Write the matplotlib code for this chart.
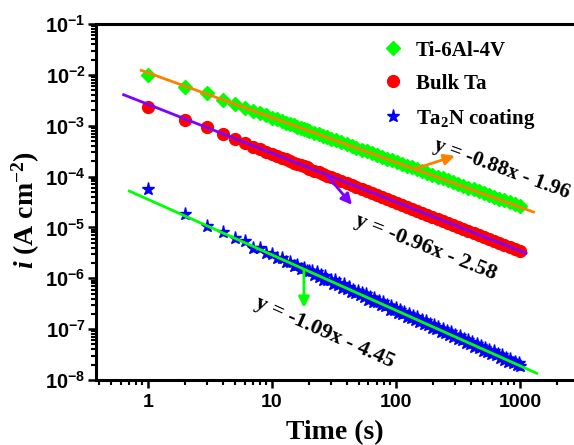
import matplotlib
matplotlib.use("Agg")
import matplotlib.pyplot as plt
from matplotlib.ticker import FixedLocator, FuncFormatter, NullFormatter
import numpy as np

plt.rcParams['mathtext.fontset'] = 'custom'
plt.rcParams['mathtext.rm'] = 'Liberation Serif:bold'
plt.rcParams['mathtext.it'] = 'Liberation Serif:italic:bold'
plt.rcParams['mathtext.bf'] = 'Liberation Serif:bold'
plt.rcParams['mathtext.sf'] = 'Liberation Sans:bold'

# Potentiostatic decay: current density vs time
time_s = [1, 2, 3, 4, 5, 6, 7, 8, 9, 10, 11, 12, 13, 14, 15, 16, 17, 18, 19, 20,
          22, 24, 26, 28, 30, 33, 36, 40, 44, 48, 53, 58, 64, 70, 77, 85, 93, 102,
          112, 123, 135, 148, 163, 179, 197, 217, 239, 263, 289, 318, 350, 385,
          424, 466, 513, 564, 620, 682, 750, 825, 908, 1000]

i_ti64 = [1.00e-2, 5.75e-3, 4.3e-3, 3.24e-3, 2.66e-3, 2.27e-3, 1.98e-3, 1.76e-3,
          1.59e-3, 1.45e-3, 1.33e-3, 1.23e-3, 1.15e-3, 1.08e-3, 1.01e-3, 9.6e-4,
          9.1e-4, 8.7e-4, 8.3e-4, 7.9e-4, 7.3e-4, 6.8e-4, 6.3e-4, 5.9e-4, 5.6e-4,
          5.15e-4, 4.8e-4, 4.35e-4, 4.0e-4, 3.72e-4, 3.4e-4, 3.15e-4, 2.9e-4,
          2.68e-4, 2.46e-4, 2.26e-4, 2.09e-4, 1.93e-4, 1.78e-4, 1.64e-4, 1.52e-4,
          1.4e-4, 1.28e-4, 1.18e-4, 1.09e-4, 1.0e-4, 9.2e-5, 8.45e-5, 7.8e-5,
          7.2e-5, 6.6e-5, 6.08e-5, 5.6e-5, 5.15e-5, 4.73e-5, 4.36e-5, 4.01e-5,
          3.69e-5, 3.4e-5, 3.13e-5, 2.88e-5, 2.64e-5]

i_bulk_ta = [2.35e-3, 1.30e-3, 9.3e-4, 6.8e-4, 5.4e-4, 4.55e-4, 3.9e-4, 3.45e-4,
             3.08e-4, 2.78e-4, 2.55e-4, 2.34e-4, 2.17e-4, 2.02e-4, 1.89e-4,
             1.78e-4, 1.68e-4, 1.59e-4, 1.51e-4, 1.44e-4, 1.31e-4, 1.21e-4,
             1.12e-4, 1.04e-4, 9.7e-5, 8.9e-5, 8.2e-5, 7.4e-5, 6.75e-5, 6.2e-5,
             5.65e-5, 5.2e-5, 4.7e-5, 4.3e-5, 3.95e-5, 3.6e-5, 3.3e-5, 3.0e-5,
             2.75e-5, 2.52e-5, 2.3e-5, 2.1e-5, 1.92e-5, 1.75e-5, 1.6e-5, 1.46e-5,
             1.33e-5, 1.21e-5, 1.11e-5, 1.01e-5, 9.2e-6, 8.4e-6, 7.7e-6, 7.0e-6,
             6.4e-6, 5.85e-6, 5.35e-6, 4.85e-6, 4.45e-6, 4.05e-6, 3.7e-6, 3.4e-6]

# the coating record is noisier, so it is sampled more finely
time_ta2n = [1, 2, 3, 4, 5, 6, 7, 8, 9, 10, 11, 12, 13, 14, 15, 16, 17, 18, 19, 20,
             21, 22, 23, 24, 25, 26, 27, 28, 30, 31, 32, 34, 35, 37, 38, 40, 42,
             43, 45, 47, 49, 51, 53, 55, 57, 60, 62, 65, 67, 70, 73, 76, 79, 82,
             85, 89, 92, 96, 100, 104, 108, 112, 117, 122, 127, 132, 137, 143, 148,
             154, 161, 167, 174, 181, 188, 196, 204, 212, 220, 229, 238, 248, 258,
             268, 279, 290, 302, 314, 327, 340, 353, 368, 382, 398, 414, 430, 448,
             466, 484, 504, 524, 545, 567, 589, 613, 637, 663, 690, 717, 746, 776,
             807, 839, 873, 908, 944, 982, 1000]

i_ta2n = [5.6e-5, 1.8e-5, 1.05e-5, 8.2e-6, 6.1e-6, 5.4e-6, 4.0e-6, 3.95e-6,
          3.15e-6, 2.95e-6, 2.55e-6, 2.45e-6, 2.1e-6, 2.05e-6, 1.75e-6, 1.8e-6,
          1.52e-6, 1.6e-6, 1.36e-6, 1.42e-6,
          1.41e-6, 1.14e-6, 1.31e-6, 1.06e-6, 1.14e-6, 9.3e-7, 1.10e-6, 9.4e-7,
          9.3e-7, 7.7e-7, 9.1e-7, 7.3e-7, 8.1e-7, 6.5e-7, 7.55e-7, 6.2e-7, 6.6e-7,
          5.4e-7, 6.0e-7, 5.1e-7, 5.7e-7, 4.6e-7, 5.1e-7, 4.3e-7, 4.85e-7, 3.8e-7,
          4.2e-7, 3.4e-7, 4.1e-7, 3.4e-7, 3.6e-7, 2.95e-7, 3.4e-7, 2.8e-7, 3.0e-7,
          2.4e-7, 2.9e-7, 2.4e-7, 2.6e-7, 2.1e-7, 2.4e-7, 1.98e-7, 2.17e-7,
          1.76e-7, 2.03e-7, 1.69e-7, 1.82e-7, 1.48e-7, 1.71e-7, 1.40e-7, 1.53e-7,
          1.25e-7, 1.44e-7, 1.20e-7, 1.29e-7, 1.05e-7, 1.21e-7, 9.9e-8, 1.09e-7,
          8.9e-8, 1.02e-7, 8.5e-8, 9.1e-8, 7.5e-8, 8.6e-8, 7.0e-8, 7.7e-8, 6.3e-8,
          7.2e-8, 6.0e-8, 6.5e-8, 5.3e-8, 6.1e-8, 5.0e-8, 5.5e-8, 4.5e-8, 5.1e-8,
          4.3e-8, 4.6e-8, 3.75e-8, 4.3e-8, 3.5e-8, 3.9e-8, 3.2e-8, 3.65e-8,
          3.05e-8, 3.3e-8, 2.7e-8, 3.05e-8, 2.5e-8, 2.75e-8, 2.25e-8, 2.6e-8,
          2.15e-8, 2.3e-8, 1.94e-8, 2.2e-8, 1.9e-8]

# Linear fits in log-log form: log10(i) = slope * log10(t) + intercept
fit_slopes = [-0.88, -0.96, -1.09]
fit_intercepts = [-1.96, -2.58, -4.45]
fit_t_start = [0.86, 0.62, 0.69]
fit_t_end = [1320, 1150, 1400]

series_labels = ['Ti-6Al-4V', 'Bulk Ta', 'Ta$_\\mathbf{2}$N coating']

fig = plt.figure(figsize=(5.74, 4.45), dpi=100)
ax = fig.add_axes([96 / 574, 1 - 380 / 445, (579 - 96) / 574, 356 / 445])

ax.plot(time_s, i_ti64, ls='none', marker='D', ms=7.5, color='#00FF00',
        mec='#00FF00', label=series_labels[0], zorder=2)
ax.plot(time_s, i_bulk_ta, ls='none', marker='o', ms=8.5, color='#FF0000',
        mec='#FF0000', label=series_labels[1], zorder=2)
ax.plot(time_ta2n, i_ta2n, ls='none', marker='*', ms=9.5, color='#0000FF',
        mec='#0000FF', label=series_labels[2], zorder=2)

fit_colors = ['#FF8000', '#8000FF', '#00FF00']
for k in range(3):
    tt = np.logspace(np.log10(fit_t_start[k]), np.log10(fit_t_end[k]), 50)
    ax.plot(tt, 10 ** (fit_slopes[k] * np.log10(tt) + fit_intercepts[k]),
            color=fit_colors[k], lw=2.0, zorder=3, solid_capstyle='butt')

ax.set_xscale('log')
ax.set_yscale('log')
ax.set_xlim(0.38, 3000)
ax.set_ylim(1e-8, 1e-1)

# ticks
ax.xaxis.set_major_locator(FixedLocator([1, 10, 100, 1000]))
ax.xaxis.set_minor_locator(FixedLocator([m * 10.0 ** e for e in range(-1, 4)
                                         for m in range(2, 10)]))
ax.xaxis.set_major_formatter(FuncFormatter(lambda v, p: '%d' % round(v)))
ax.xaxis.set_minor_formatter(NullFormatter())
ax.yaxis.set_major_locator(FixedLocator([10.0 ** e for e in range(-8, 0)]))
ax.yaxis.set_minor_locator(FixedLocator([m * 10.0 ** e for e in range(-8, -1)
                                         for m in range(2, 10)]))
ax.yaxis.set_major_formatter(FuncFormatter(
    lambda v, p: r'$\mathsf{10^{%d}}$' % round(np.log10(v))))
ax.yaxis.set_minor_formatter(NullFormatter())

ax.tick_params(which='major', direction='out', length=6, width=1.8,
               top=False, right=False)
ax.tick_params(which='minor', direction='out', length=3.5, width=1.5,
               top=False, right=False)
ax.tick_params(axis='x', which='major', pad=4, labelsize=14)
ax.tick_params(axis='y', which='major', pad=1.5, labelsize=14.5)
for lab in ax.get_xticklabels():
    lab.set_fontfamily('Liberation Sans')
    lab.set_fontweight('bold')

for s in ax.spines.values():
    s.set_linewidth(2.2)

ax.set_xlabel('Time (s)', fontsize=20, fontfamily='Liberation Serif',
              fontweight='bold')
ax.set_ylabel(r'$i$ (A cm$^{-2}$)', fontsize=20, fontfamily='Liberation Serif',
              fontweight='bold')
ax.xaxis.set_label_coords(0.495, -0.112)
ax.yaxis.set_label_coords(-0.112, 0.478)

# fit annotations
eq_font = dict(fontfamily='Liberation Serif', fontweight='bold',
               ha='left', va='baseline', rotation_mode='anchor', zorder=5)
ax.text(198, 3.45e-4, 'y = -0.88x - 1.96', rotation=-20, fontsize=15.3, **eq_font)
ax.text(45.5, 1.15e-5, 'y = -0.96x - 2.58', rotation=-21.5, fontsize=16, **eq_font)
ax.text(7.2, 2.75e-7, 'y = -1.09x - 4.45', rotation=-24, fontsize=16, **eq_font)

arrow_kw = dict(arrowstyle='-|>', lw=2.0, mutation_scale=16, shrinkA=0, shrinkB=0)
ax.annotate('', xy=(299, 2.55e-4), xytext=(142, 1.42e-4),
            arrowprops=dict(color='#FF8000', **arrow_kw), zorder=4)
ax.annotate('', xy=(44.2, 2.78e-5), xytext=(27.8, 1.05e-4),
            arrowprops=dict(color='#8000FF', **arrow_kw), zorder=4)
ax.annotate('', xy=(18.1, 2.63e-7), xytext=(18.1, 1.51e-6),
            arrowprops=dict(color='#00FF00', **arrow_kw), zorder=4)

leg = ax.legend(loc='upper left', bbox_to_anchor=(364 / 574, 1 - 22 / 445),
                bbox_transform=fig.transFigure, frameon=False, handlelength=1.0,
                handletextpad=0.6, labelspacing=0.62, borderpad=0.4,
                prop=dict(family='Liberation Serif', weight='bold', size=15))

fig.savefig('out.png', dpi=100)
